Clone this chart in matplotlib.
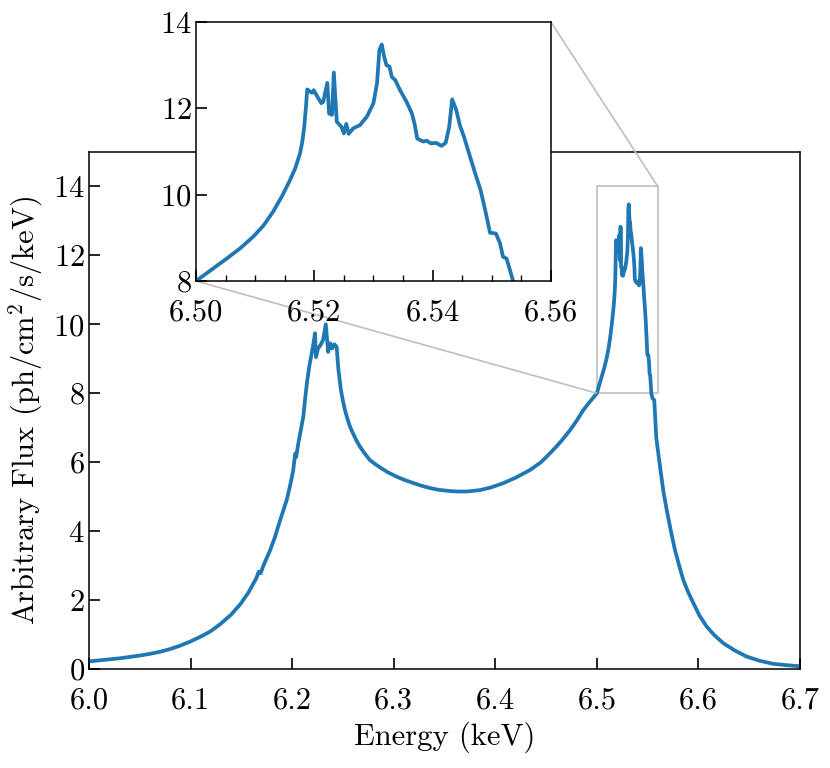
import matplotlib
matplotlib.use('Agg')
import matplotlib.pyplot as plt
from matplotlib.ticker import MultipleLocator, FormatStrFormatter
from mpl_toolkits.axes_grid1.inset_locator import mark_inset

plt.rcParams['font.family'] = 'serif'
plt.rcParams['font.serif'] = ['cmr10']
plt.rcParams['mathtext.fontset'] = 'cm'
plt.rcParams['axes.unicode_minus'] = False
plt.rcParams['axes.formatter.use_mathtext'] = True

# spectrum (keV, arbitrary flux)
energy = [
    6.000, 6.010, 6.020, 6.030, 6.040, 6.050, 6.060, 6.070, 6.080, 6.090,
    6.100, 6.110, 6.120, 6.130, 6.140, 6.149, 6.157, 6.165, 6.167, 6.169,
    6.172, 6.178, 6.183, 6.188, 6.1946, 6.198, 6.2011, 6.203, 6.204, 6.2061,
    6.209, 6.211, 6.213, 6.2149, 6.217, 6.2193, 6.221, 6.2225, 6.2235, 6.2255,
    6.228, 6.2305, 6.2331, 6.2355, 6.2375, 6.2395, 6.2415, 6.2438, 6.2455, 6.2465,
    6.2480, 6.2500, 6.2520, 6.2545, 6.2570, 6.2600, 6.2635, 6.2668, 6.2715, 6.2766,
    6.2815, 6.2865, 6.2940, 6.3029, 6.3110, 6.3190, 6.3270, 6.3357, 6.3440, 6.3530,
    6.3620, 6.3720, 6.3850, 6.3960, 6.4077, 6.4200, 6.4340, 6.4450, 6.4539, 6.4600,
    6.4660, 6.4736, 6.4800, 6.4866, 6.4930, 6.5000,
    6.5025, 6.5052, 6.5075, 6.5097, 6.5115, 6.5131, 6.5146, 6.5159, 6.5168, 6.5176,
    6.5180, 6.5183, 6.5186, 6.5188, 6.5196, 6.5199, 6.5207,
    6.5212, 6.5215, 6.5222, 6.5225, 6.5230, 6.5233, 6.5238, 6.5246, 6.5250, 6.5254,
    6.5258, 6.5266, 6.5277, 6.5289, 6.5300, 6.5306, 6.5310, 6.5314, 6.5318, 6.5322,
    6.5327, 6.5331, 6.5337, 6.5345, 6.5356, 6.5365, 6.5370, 6.5374, 6.5384, 6.5390,
    6.5397, 6.5406, 6.5415, 6.5422, 6.5428, 6.5433, 6.5440, 6.5446, 6.5453, 6.5460,
    6.5472, 6.5481, 6.5490, 6.5497, 6.5507, 6.5514, 6.5519, 6.5525, 6.5536, 6.5548,
    6.5565, 6.5585, 6.5625, 6.5655, 6.5688, 6.5730, 6.5769, 6.5810, 6.5851, 6.5900,
    6.5950, 6.6010, 6.6081, 6.6160, 6.6245, 6.6350, 6.6475, 6.6600, 6.6737, 6.6870,
    6.7000,
]
flux = [
    0.22, 0.25, 0.28, 0.31, 0.35, 0.39, 0.44, 0.50, 0.58, 0.68,
    0.80, 0.94, 1.10, 1.32, 1.58, 1.88, 2.22, 2.65, 2.82, 2.78,
    3.02, 3.42, 3.82, 4.30, 4.90, 5.32, 5.77, 6.25, 6.15, 6.55,
    7.00, 7.32, 7.90, 8.38, 8.80, 9.16, 9.45, 9.74, 9.05, 9.30,
    9.40, 9.55, 10.00, 9.20, 9.45, 9.30, 9.42, 9.35, 8.70, 8.45,
    8.10, 7.78, 7.51, 7.25, 7.03, 6.83, 6.62, 6.45, 6.25, 6.06,
    5.95, 5.85, 5.71, 5.58, 5.48, 5.40, 5.32, 5.25, 5.20, 5.17,
    5.15, 5.15, 5.19, 5.27, 5.39, 5.55, 5.77, 6.00, 6.26, 6.45,
    6.65, 6.93, 7.20, 7.51, 7.75, 8.00,
    8.25, 8.52, 8.76, 9.03, 9.30, 9.62, 9.98, 10.34, 10.62, 10.96,
    11.25, 11.57, 12.05, 12.44, 12.36, 12.42, 12.23,
    12.12, 12.15, 12.59, 11.88, 11.85, 12.83, 11.69, 11.57, 11.42, 11.64,
    11.41, 11.54, 11.61, 11.81, 12.12, 12.58, 13.35, 13.48, 13.20, 13.00,
    12.97, 12.73, 12.65, 12.42, 12.15, 11.88, 11.61, 11.30, 11.23, 11.25,
    11.19, 11.20, 11.13, 11.20, 11.57, 12.21, 11.96, 11.61, 11.34, 11.03,
    10.49, 10.11, 9.57, 9.12, 9.10, 8.87, 8.56, 8.52, 8.00, 7.85,
    7.80, 6.70, 5.80, 5.15, 4.61, 3.98, 3.45, 3.00, 2.58, 2.22,
    1.91, 1.55, 1.23, 0.97, 0.75, 0.55, 0.36, 0.24, 0.15, 0.11,
    0.08,
]

main_xticks = [6.0, 6.1, 6.2, 6.3, 6.4, 6.5, 6.6, 6.7]
main_yticks = [0, 2, 4, 6, 8, 10, 12, 14]
inset_xticks = [6.50, 6.52, 6.54, 6.56]
inset_yticks = [8, 10, 12, 14]

line_color = '#1f77b4'
fs = 22

fig = plt.figure(figsize=(8.3, 7.68), dpi=100)
ax = fig.add_axes([0.1072, 0.1289, 0.8567, 0.6732])
ax.plot(energy, flux, color=line_color, lw=2.7)
ax.set_xlim(6.0, 6.7)
ax.set_ylim(0, 15)
ax.set_xticks(main_xticks)
ax.set_yticks(main_yticks)
ax.xaxis.set_major_formatter(FormatStrFormatter('%.1f'))
ax.tick_params(direction='in', length=8, width=1.2, labelsize=fs)
ax.tick_params(axis='x', pad=13)
ax.tick_params(axis='y', pad=3)
ax.set_xlabel('Energy (keV)', fontsize=fs, labelpad=5)
ax.set_ylabel(r'Arbitrary Flux (ph/cm$^2$/s/keV)', fontsize=fs, labelpad=6)
for s in ax.spines.values():
    s.set_linewidth(1.1)

axins = fig.add_axes([0.2361, 0.6341, 0.4277, 0.3372])
axins.plot(energy, flux, color=line_color, lw=2.7)
axins.set_xlim(6.50, 6.56)
axins.set_ylim(8, 14)
axins.set_xticks(inset_xticks)
axins.set_yticks(inset_yticks)
axins.xaxis.set_minor_locator(MultipleLocator(0.005))
axins.xaxis.set_major_formatter(FormatStrFormatter('%.2f'))
axins.tick_params(direction='in', length=8, width=1.2, labelsize=fs)
axins.tick_params(axis='x', pad=13)
axins.tick_params(axis='y', pad=3)
axins.tick_params(which='minor', direction='in', length=4, width=1.0)
for s in axins.spines.values():
    s.set_linewidth(1.1)

mark_inset(ax, axins, loc1=1, loc2=3, fc='none', ec='0.75', lw=1.2)

fig.savefig('out.png', dpi=100)
